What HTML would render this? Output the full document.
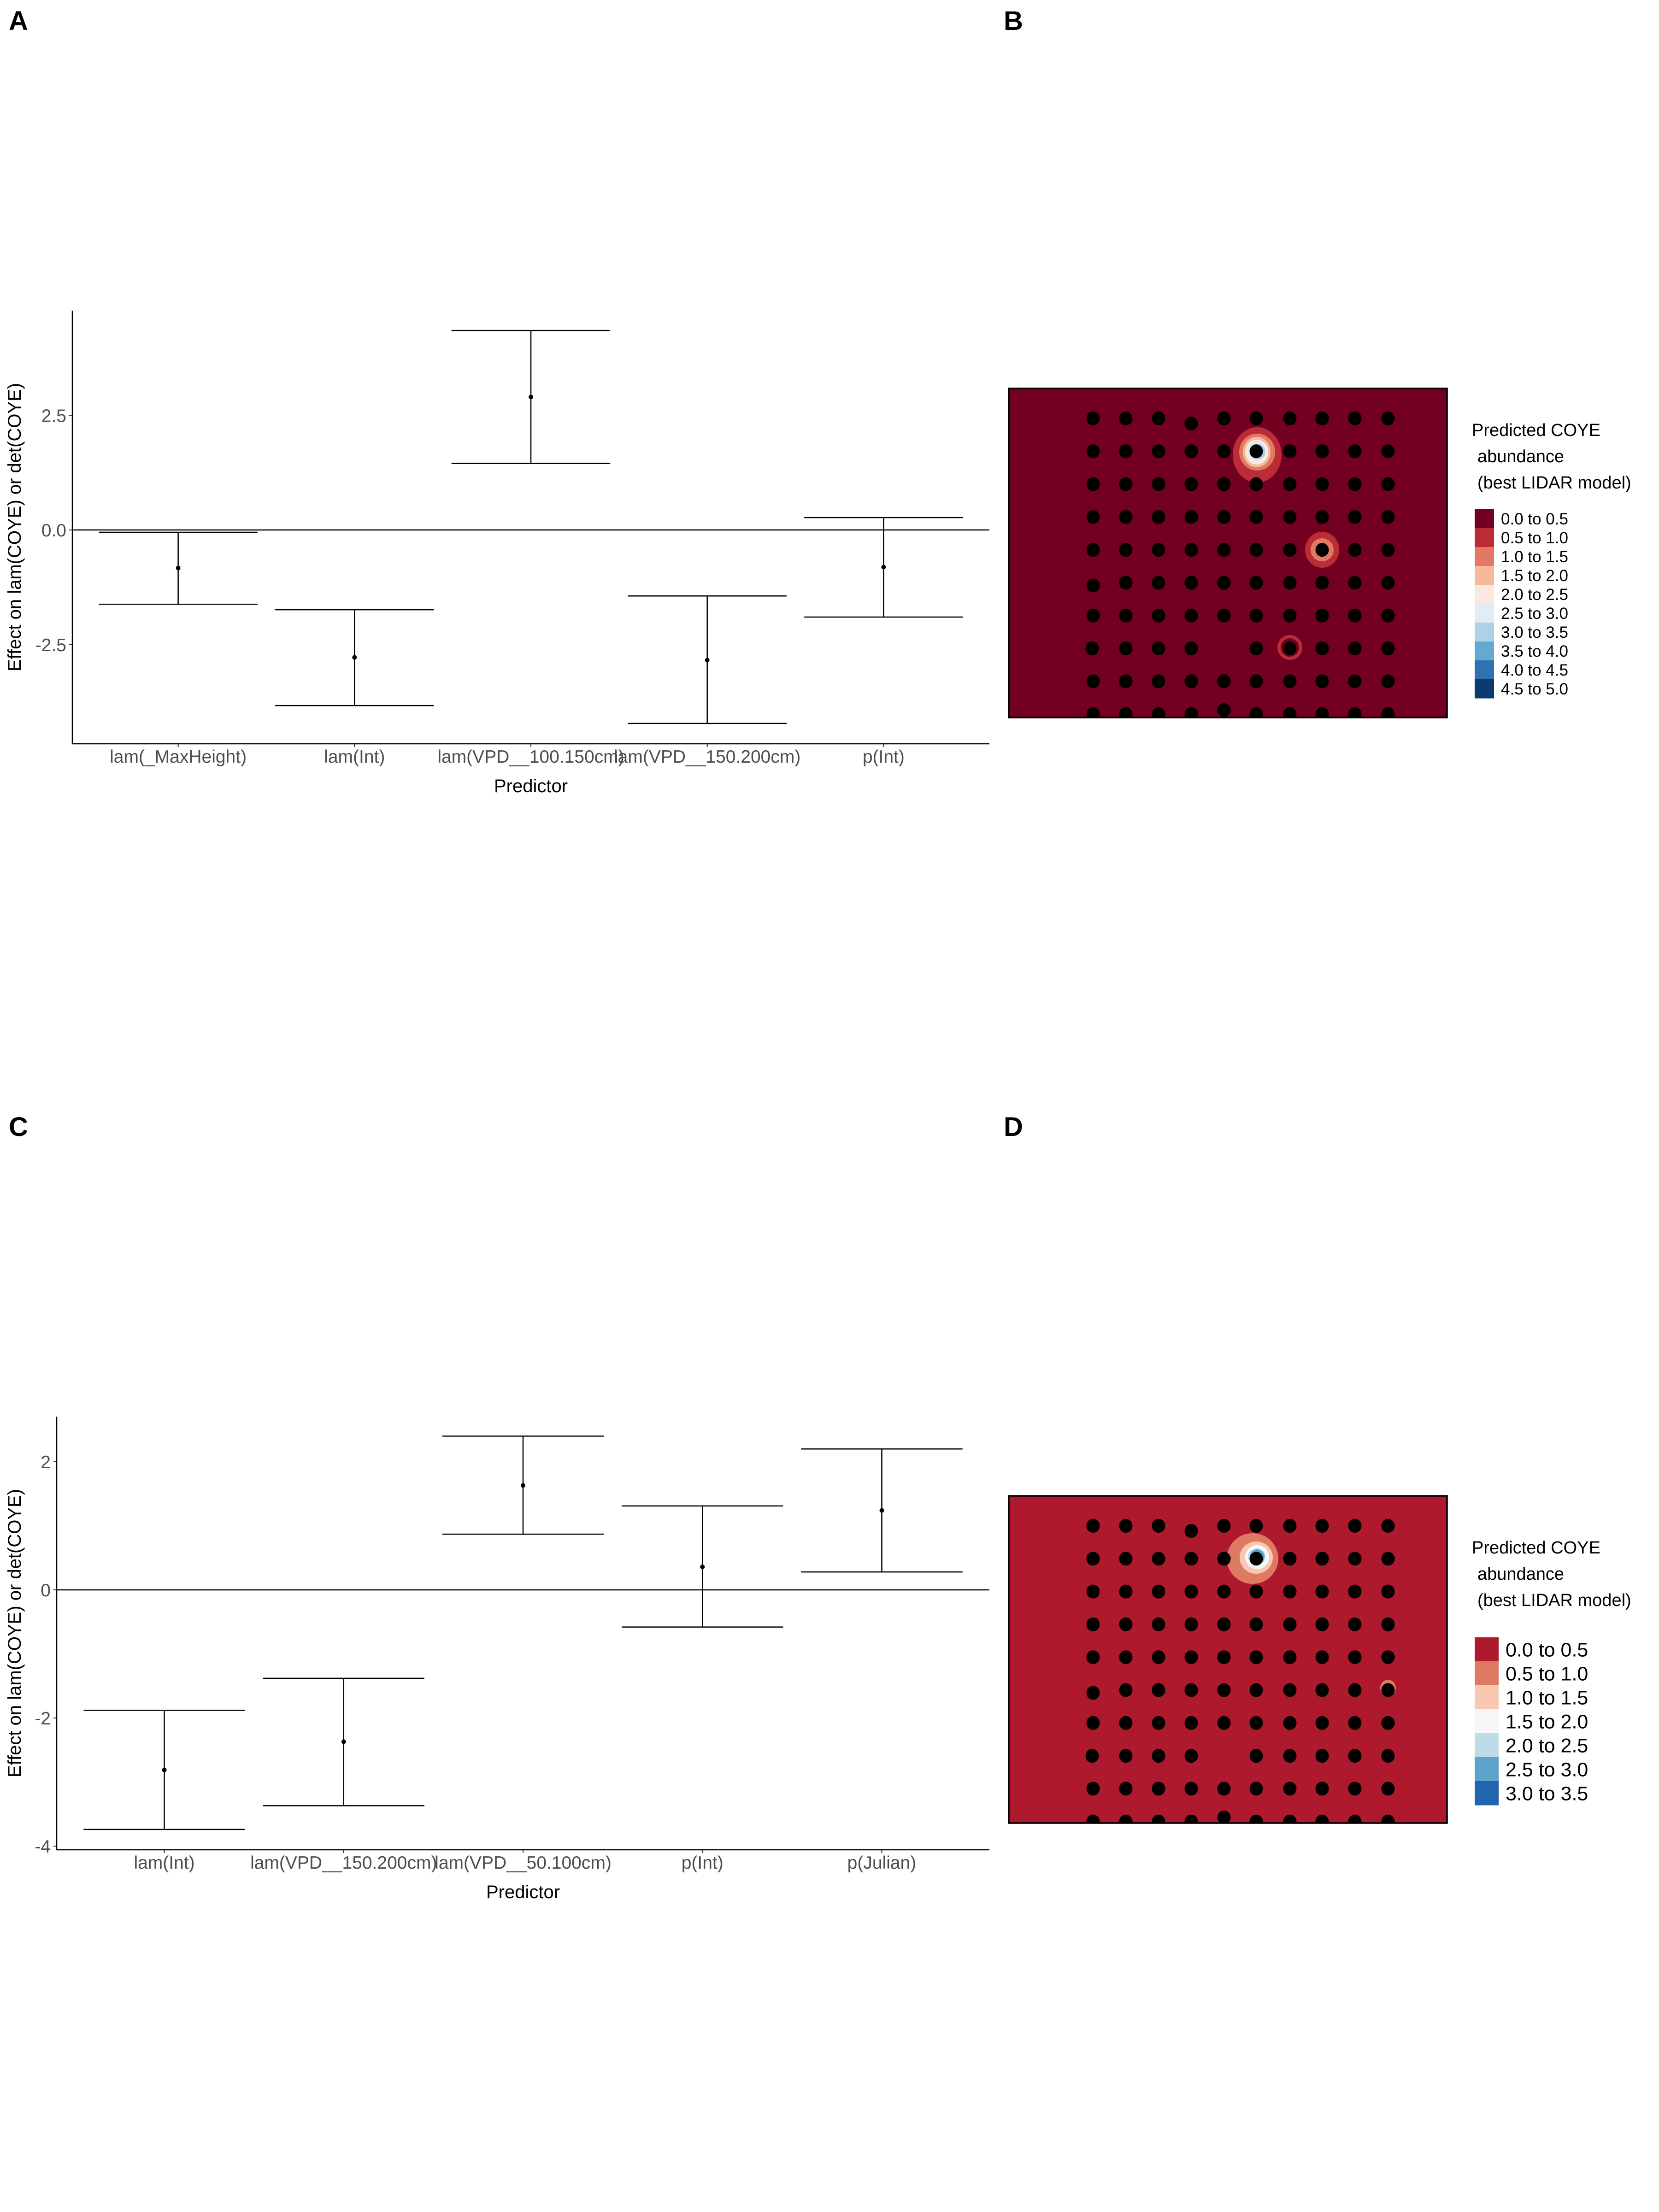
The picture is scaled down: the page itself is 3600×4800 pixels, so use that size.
<!DOCTYPE html>
<html><head><meta charset="utf-8"><style>
html,body{margin:0;padding:0;background:#fff}
svg{display:block}
text{font-family:"Liberation Sans",Arial,sans-serif}
</style></head><body>
<svg id="fig" width="3600" height="4800" viewBox="0 0 3600 4800" xmlns="http://www.w3.org/2000/svg">
<rect x="0" y="0" width="3600" height="4800" fill="#fff"/>
<text x="19" y="65" font-size="58" font-weight="bold">A</text>
<text x="2178" y="65" font-size="58" font-weight="bold">B</text>
<text x="19" y="2465" font-size="58" font-weight="bold">C</text>
<text x="2178" y="2465" font-size="58" font-weight="bold">D</text>
<g id="plotA"></g>
<g id="plotC"></g>
<g id="mapB"></g>
<g id="mapD"></g>
</svg>
<script>
// ---- Panel A data ----
const catsA = ["lam(_MaxHeight)", "lam(Int)", "lam(VPD__100.150cm)", "lam(VPD__150.200cm)", "p(Int)"];
const estA = [-0.83, -2.78, 2.90, -2.84, -0.81];
const lowA = [-1.62, -3.83, 1.45, -4.22, -1.90];
const highA = [-0.05, -1.74, 4.35, -1.44, 0.27];
const ticksA = [-2.5, 0, 2.5];
const tickLabelsA = ["-2.5", "0.0", "2.5"];
// ---- Panel C data ----
const catsC = ["lam(Int)", "lam(VPD__150.200cm)", "lam(VPD__50.100cm)", "p(Int)", "p(Julian)"];
const estC = [-2.81, -2.37, 1.63, 0.36, 1.24];
const lowC = [-3.74, -3.37, 0.87, -0.58, 0.28];
const highC = [-1.88, -1.38, 2.40, 1.31, 2.20];
const ticksC = [-4, -2, 0, 2];
const tickLabelsC = ["-4", "-2", "0", "2"];
// ---- Map legends ----
const legendLabelsB = ["0.0 to 0.5","0.5 to 1.0","1.0 to 1.5","1.5 to 2.0","2.0 to 2.5","2.5 to 3.0","3.0 to 3.5","3.5 to 4.0","4.0 to 4.5","4.5 to 5.0"];
const legendColorsB = ["#730020","#bb2d36","#e27a63","#f6b99c","#fbe9e1","#e2edf3","#aed2e5","#65a8d1","#2e72b1","#0b3a6e"];
const legendLabelsD = ["0.0 to 0.5","0.5 to 1.0","1.0 to 1.5","1.5 to 2.0","2.0 to 2.5","2.5 to 3.0","3.0 to 3.5"];
const legendColorsD = ["#af192d","#df7a62","#f9c8b2","#f7f7f7","#bfdbe9","#5ca3cc","#2166ac"];

const NS = "http://www.w3.org/2000/svg";
function mk(parent, tag, attrs, txt) {
  const e = document.createElementNS(NS, tag);
  for (const k in attrs) e.setAttribute(k, attrs[k]);
  if (txt !== undefined) e.textContent = txt;
  parent.appendChild(e);
  return e;
}

function effectPlot(g, cfg, cats, est, low, high, ticks, tickLabels) {
  const x0 = cfg.left, x1 = cfg.right;
  const step = (x1 - x0) / (cats.length + 0.2);
  const xs = i => x0 + (i + 0.6) * step;
  const ys = v => cfg.zeroY - v * cfg.perUnit;
  const hw = 0.45 * step;
  let e = mk(g, "line", {x1: x0, x2: x1, y1: ys(0), y2: ys(0), stroke: "#000", "stroke-width": 2.5});
  
  
  for (let i = 0; i < cats.length; i++) {
    const cx = xs(i);
    const eg = mk(g, "g", {});
    
    
    mk(eg, "line", {x1: cx, x2: cx, y1: ys(high[i]), y2: ys(low[i]), stroke: "#000", "stroke-width": 2.5});
    mk(eg, "line", {x1: cx - hw, x2: cx + hw, y1: ys(high[i]), y2: ys(high[i]), stroke: "#000", "stroke-width": 2.5});
    mk(eg, "line", {x1: cx - hw, x2: cx + hw, y1: ys(low[i]), y2: ys(low[i]), stroke: "#000", "stroke-width": 2.5});
    const p = mk(eg, "circle", {cx: cx, cy: ys(est[i]), r: 5, fill: "#000"});
    
    
    mk(g, "line", {x1: cx, x2: cx, y1: cfg.bottom, y2: cfg.bottom + 7, stroke: "#333", "stroke-width": 2});
    const t = mk(g, "text", {x: cx, y: cfg.bottom + 41, "font-size": 39, fill: "#4d4d4d", "text-anchor": "middle"}, cats[i]);
    
    
  }
  for (let j = 0; j < ticks.length; j++) {
    const y = ys(ticks[j]);
    mk(g, "line", {x1: x0 - 7, x2: x0, y1: y, y2: y, stroke: "#333", "stroke-width": 2});
    const t = mk(g, "text", {x: x0 - 13, y: y + 14, "font-size": 39, fill: "#4d4d4d", "text-anchor": "end"}, tickLabels[j]);
    
    
  }
  e = mk(g, "line", {x1: x0, x2: x0, y1: cfg.top, y2: cfg.bottom + 1, stroke: "#000", "stroke-width": 2.5});
  
  
  e = mk(g, "line", {x1: x0 - 1, x2: x1, y1: cfg.bottom, y2: cfg.bottom, stroke: "#000", "stroke-width": 2.5});
  
  
  e = mk(g, "text", {x: (x0 + x1) / 2, y: cfg.bottom + 105, "font-size": 40, "text-anchor": "middle"}, "Predictor");
  
  
  const cy = (cfg.top + cfg.bottom) / 2;
  e = mk(g, "text", {x: 45, y: cy, "font-size": 40, "text-anchor": "middle", transform: "rotate(-90 45 " + cy + ")"}, "Effect on lam(COYE) or det(COYE)");
  
  
}

effectPlot(document.getElementById("plotA"), {left: 157, right: 2147, top: 674, bottom: 1614, zeroY: 1150, perUnit: 99.5}, catsA, estA, lowA, highA, ticksA, tickLabelsA);
effectPlot(document.getElementById("plotC"), {left: 123, right: 2147, top: 3074, bottom: 4014, zeroY: 3450, perUnit: 139}, catsC, estC, lowC, highC, ticksC, tickLabelsC);

// ---- maps ----
const colX = [2372, 2443, 2514, 2585, 2656, 2726, 2799, 2869, 2940, 3012];
function drawMap(g, id, top, bottom, bg, hot, legendLabels, legendColors, keyTop, keyW, keyH, fs, titleY) {
  const clip = mk(g, "clipPath", {id: id});
  mk(clip, "rect", {x: 2189, y: top, width: 951, height: bottom - top});
  const inner = mk(g, "g", {"clip-path": "url(#" + id + ")"});
  const r = mk(inner, "rect", {x: 2189, y: top, width: 951, height: bottom - top, fill: bg});
  
  
  hot(inner);
  const rowStep = 71.3;
  for (let row = 0; row < 10; row++) {
    for (let c = 0; c < 10; c++) {
      let x = colX[c], y = top + 65 + row * rowStep;
      if (row === 7 && c === 4) continue;
      if (row === 0 && c === 3) y += 11;
      if (row === 9 && c === 4) y -= 9;
      if (row === 5 && c === 0) y += 6;
      if (row === 7 && c === 0) x -= 2;
      const d = mk(inner, "ellipse", {cx: x, cy: y, rx: 14.5, ry: 15, fill: "#000"});
      
      
    }
  }
  mk(g, "rect", {x: 2189, y: top, width: 951, height: bottom - top, fill: "none", stroke: "#000", "stroke-width": 3.5});
  const lt = mk(g, "text", {x: 3194, y: titleY, "font-size": 38}, "");
  
  
  mk(lt, "tspan", {x: 3194, y: titleY}, "Predicted COYE");
  mk(lt, "tspan", {x: 3206, y: titleY + 57}, "abundance");
  mk(lt, "tspan", {x: 3206, y: titleY + 114}, "(best LIDAR model)");
  for (let i = 0; i < legendLabels.length; i++) {
    const k = mk(g, "rect", {x: 3200, y: keyTop + i * keyH, width: keyW, height: keyH + 0.5, fill: legendColors[i]});
    
    
    const t = mk(g, "text", {x: 3200 + keyW + 15, y: keyTop + i * keyH + keyH / 2 + fs * 0.36, "font-size": fs}, legendLabels[i]);
    
    
  }
}
function ell(g, cx, cy, rx, ry, f) { mk(g, "ellipse", {cx: cx, cy: cy, rx: rx, ry: ry, fill: f}); }

drawMap(document.getElementById("mapB"), "clipB", 843, 1557, "#730020", function (g) {
  const C = legendColorsB;
  ell(g, 2728, 987, 53, 60, C[1]);
  ell(g, 2728, 981, 39, 40, C[2]);
  ell(g, 2727, 981, 30, 33, C[3]);
  ell(g, 2727, 981, 25, 27, C[4]);
  ell(g, 2727, 978, 21, 20, C[5]);
  ell(g, 2729, 980, 17, 17, C[6]);
  ell(g, 2869, 1193, 37, 39, C[1]);
  ell(g, 2869, 1193, 25, 25, C[2]);
  ell(g, 2799, 1405, 27, 27, C[1]);
  ell(g, 2799, 1405, 20, 20, "#730020");
}, legendLabelsB, legendColorsB, 1105, 42, 41, 35, 946);

drawMap(document.getElementById("mapD"), "clipD", 3246, 3956, "#af192d", function (g) {
  const C = legendColorsD;
  ell(g, 2718, 3382, 56, 55, C[1]);
  ell(g, 2726, 3380, 36, 35, C[2]);
  ell(g, 2728, 3379, 26, 26, C[3]);
  ell(g, 2727, 3378, 19, 18, C[4]);
  ell(g, 2728, 3378, 16, 16, C[5]);
  ell(g, 3012, 3663, 17, 18, C[1]);
}, legendLabelsD, legendColorsD, 3553, 52, 52, 43, 3371);
</script>
</body></html>
